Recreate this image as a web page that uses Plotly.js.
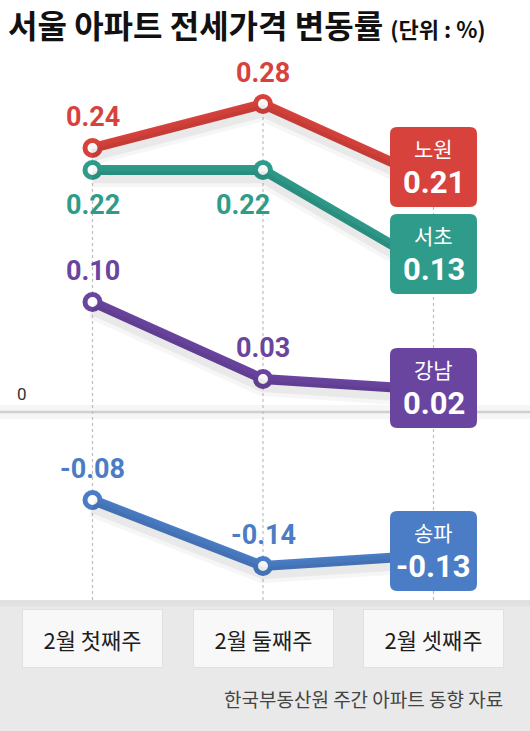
<!DOCTYPE html>
<html>
<head>
<meta charset="utf-8">
<script src="https://cdn.plot.ly/plotly-3.0.1.min.js"></script>
<style>
  html, body { margin: 0; padding: 0; background: #ffffff; }
  #chart { width: 530px; height: 731px; }
</style>
</head>
<body>
<div id="chart"></div>
<script>
// ---- data ----
const categories = ['2월 첫째주', '2월 둘째주', '2월 셋째주'];
const districts = ['노원', '서초', '강남', '송파'];
const nowon = [0.24, 0.28, 0.21];
const seocho = [0.22, 0.22, 0.13];
const gangnam = [0.10, 0.03, 0.02];
const songpa = [-0.08, -0.14, -0.13];
const titleText = '서울 아파트 전세가격 변동률';
const unitText = '(단위 : %)';
const sourceText = '한국부동산원 주간 아파트 동향 자료';
const zeroLabel = '0';

// ---- styles ----
const series = [nowon, seocho, gangnam, songpa];
const colors = ['#d8423c', '#2f9c8b', '#6a45a0', '#4a7dc5'];
// label placement for first two points: +1 above, -1 below ; extra x shift in px
const labelPlace = [
  [{dir: 1, dx: 0}, {dir: 1, dx: 0}],
  [{dir: -1, dx: 0}, {dir: -1, dx: -20}],
  [{dir: 1, dx: 0}, {dir: 1, dx: 0}],
  [{dir: 1, dx: 0}, {dir: 1, dx: 0}]
];
const boxShift = [14, 15, 2, 4]; // px upward offset of end boxes
const FONT = 'Roboto, "Noto Sans CJK KR", sans-serif';
const KFONT = '"Noto Sans CJK KR", sans-serif';
const yRange = [-0.1709, 0.32];
const xRange = [-0.5425, 2.566];
const shadowShift = 0.0065;

const traces = [];
// shadows
series.forEach((vals) => {
  traces.push({
    x: categories, y: vals, type: 'scatter', mode: 'lines', yaxis: 'y2',
    line: {color: 'rgba(0,0,0,0.035)', width: 20}, hoverinfo: 'skip', showlegend: false
  });
  traces.push({
    x: categories, y: vals, type: 'scatter', mode: 'lines', yaxis: 'y2',
    line: {color: 'rgba(0,0,0,0.05)', width: 12}, hoverinfo: 'skip', showlegend: false
  });
});
// main lines
series.forEach((vals, i) => {
  traces.push({
    x: categories, y: vals, type: 'scatter', mode: 'lines+markers', name: districts[i],
    line: {color: colors[i], width: 10},
    marker: {color: '#ffffff', size: 15, line: {color: colors[i], width: 5}},
    showlegend: false, hoverinfo: 'skip'
  });
});

const shapes = [];
// bottom grey band
shapes.push({type: 'rect', xref: 'paper', yref: 'paper', x0: 0, x1: 1, y0: -0.3, y1: 0,
  fillcolor: '#e9e9e9', line: {width: 0}, layer: 'below'});
shapes.push({type: 'rect', xref: 'paper', yref: 'paper', x0: 0, x1: 1, y0: -0.012, y1: 0,
  fillcolor: 'rgba(0,0,0,0.03)', line: {width: 0}, layer: 'below'});
// vertical dotted guides
categories.forEach((c, j) => {
  const top = Math.max(...series.map(s => s[j]));
  shapes.push({type: 'line', xref: 'x', yref: 'y', x0: c, x1: c, y0: yRange[0], y1: top,
    line: {color: '#bdbdbd', width: 1.2, dash: 'dot'}, layer: 'below'});
});
// zero line with soft shadow
shapes.push({type: 'line', xref: 'paper', yref: 'y', x0: 0, x1: 1, y0: 0, y1: 0,
  line: {color: 'rgba(0,0,0,0.035)', width: 14}, layer: 'below'});
shapes.push({type: 'line', xref: 'paper', yref: 'y', x0: 0, x1: 1, y0: 0, y1: 0,
  line: {color: '#d0d0d0', width: 2.5}, layer: 'below'});

function roundRect(w, h, r, dy) {
  const x0 = -w / 2, x1 = w / 2, y0 = -h / 2 + dy, y1 = h / 2 + dy;
  return `M ${x0 + r},${y0} L ${x1 - r},${y0} Q ${x1},${y0} ${x1},${y0 + r} L ${x1},${y1 - r} Q ${x1},${y1} ${x1 - r},${y1} L ${x0 + r},${y1} Q ${x0},${y1} ${x0},${y1 - r} L ${x0},${y0 + r} Q ${x0},${y0} ${x0 + r},${y0} Z`;
}

const annotations = [];
const last = categories.length - 1;
series.forEach((vals, i) => {
  // end boxes
  shapes.push({type: 'path', xref: 'x', yref: 'y', xsizemode: 'pixel', ysizemode: 'pixel',
    xanchor: categories[last], yanchor: vals[last],
    path: roundRect(87, 80, 7, boxShift[i]),
    fillcolor: colors[i], line: {width: 0}, layer: 'above'});
  annotations.push({xref: 'x', yref: 'y', x: categories[last], y: vals[last], showarrow: false,
    text: districts[i], yshift: boxShift[i] + 19, xanchor: 'center', yanchor: 'middle',
    font: {family: KFONT, size: 21, color: '#ffffff'}});
  annotations.push({xref: 'x', yref: 'y', x: categories[last], y: vals[last], showarrow: false,
    text: '<b>' + vals[last].toFixed(2) + '</b>', yshift: boxShift[i] - 15, xanchor: 'center', yanchor: 'middle',
    font: {family: FONT, size: 31, color: '#ffffff'}});
  // value labels
  for (let j = 0; j < last; j++) {
    const p = labelPlace[i][j];
    annotations.push({xref: 'x', yref: 'y', x: categories[j], y: vals[j], showarrow: false,
      text: '<b>' + vals[j].toFixed(2) + '</b>', yshift: p.dir > 0 ? 31 : -35, xshift: p.dx,
      xanchor: 'center', yanchor: 'middle',
      font: {family: FONT, size: 27, color: colors[i]}});
  }
});
// category boxes
categories.forEach((c) => {
  annotations.push({xref: 'x', yref: 'paper', x: c, y: -0.0713, showarrow: false,
    text: c, width: 137, height: 55, bgcolor: '#f8f8f8', bordercolor: 'rgba(0,0,0,0.06)', borderwidth: 1,
    xanchor: 'center', yanchor: 'middle',
    font: {family: KFONT, size: 22, color: '#1e1e1e'}});
});
// zero label
annotations.push({xref: 'paper', yref: 'y', x: 22 / 530, y: 0, yshift: 18, showarrow: false,
  text: zeroLabel, xanchor: 'center', yanchor: 'middle', font: {family: FONT, size: 17, color: '#333333'}});
// source
annotations.push({xref: 'paper', yref: 'paper', x: 505 / 530, y: -0.1815, showarrow: false,
  text: sourceText, xanchor: 'right', yanchor: 'middle', font: {family: KFONT, size: 19, color: '#444444'}});

const layout = {
  width: 530, height: 731,
  margin: {l: 0, r: 0, t: 60, b: 131},
  paper_bgcolor: '#ffffff', plot_bgcolor: 'rgba(0,0,0,0)',
  title: {
    text: '<b>' + titleText + '</b> <span style="font-size:22px"><b>' + unitText + '</b></span>',
    x: 8 / 530, xanchor: 'left', xref: 'paper', y: 1 - 27 / 731, yanchor: 'middle', yref: 'container',
    font: {family: KFONT, size: 32, color: '#111111'}
  },
  xaxis: {type: 'category', range: xRange, showgrid: false, zeroline: false, showticklabels: false,
    showline: false, ticks: '', fixedrange: true},
  yaxis: {range: yRange, showgrid: false, zeroline: false, showticklabels: false, showline: false,
    ticks: '', fixedrange: true},
  yaxis2: {range: [yRange[0] + shadowShift, yRange[1] + shadowShift], overlaying: 'y',
    showgrid: false, zeroline: false, showticklabels: false, showline: false, ticks: '', fixedrange: true},
  shapes: shapes,
  annotations: annotations,
  showlegend: false
};

Plotly.newPlot('chart', traces, layout, {displayModeBar: false, staticPlot: true});
</script>
</body>
</html>
